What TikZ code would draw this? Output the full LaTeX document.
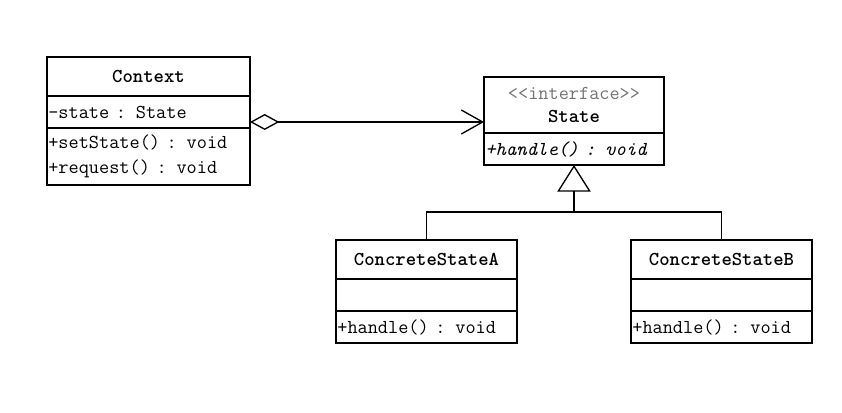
\documentclass[tikz,border=0pt]{standalone}
\usepackage{fontspec}
\usetikzlibrary{arrows.meta,positioning,calc}

\begin{document}
\begin{tikzpicture}[x=0.75pt,y=-0.75pt,line width=1.1pt,
                    font=\ttfamily\fontsize{14.8}{18.75}\selectfont,
                    part/.style={draw,anchor=north west,inner sep=1pt,outer sep=0pt},
                    member/.style={part,align=left},
                    agg/.style={{Diamond[open,length=22pt,width=12pt,line width=1pt]}-{Straight Barb[length=16pt,width=18pt,line width=1pt]}},
                    inh/.style={-{Triangle[open,length=20pt,width=25pt,line width=1pt]}}]
  \useasboundingbox[fill=white] (0,0) rectangle (842,413);

  % Context
  \node[part,minimum width=152.25pt,minimum height=29.25pt] (ctx) at (47,57) {\bfseries Context};
  \node[member,minimum width=152.25pt,minimum height=24pt,text width=150.25pt] (ctxattr) at (ctx.south west) {-state : State};
  \node[member,minimum width=152.25pt,minimum height=42.75pt,text width=150.25pt] (ctxmeth) at (ctxattr.south west) {+setState() : void\\+request() : void};

  % State
  \node[part,minimum width=135pt,minimum height=42pt,align=center] (st) at (484,77)
       {{\color{black!55}<<interface>>}\\[-1.5pt]\bfseries State};
  \node[member,minimum width=135pt,minimum height=24pt,text width=133pt] (stmeth) at (st.south west) {\itshape +handle() : void};

  % ConcreteStateA
  \node[part,minimum width=135.75pt,minimum height=29.25pt] (csa) at (336,240) {\bfseries ConcreteStateA};
  \node[member,minimum width=135.75pt,minimum height=24pt,text width=133.75pt] (csaattr) at (csa.south west) {};
  \node[member,minimum width=135.75pt,minimum height=24pt,text width=133.75pt] (csameth) at (csaattr.south west) {+handle() : void};

  % ConcreteStateB
  \node[part,minimum width=135.75pt,minimum height=29.25pt] (csb) at (631,240) {\bfseries ConcreteStateB};
  \node[member,minimum width=135.75pt,minimum height=24pt,text width=133.75pt] (csbattr) at (csb.south west) {};
  \node[member,minimum width=135.75pt,minimum height=24pt,text width=133.75pt] (csbmeth) at (csbattr.south west) {+handle() : void};

  % aggregation
  \coordinate (aggstart) at ([yshift=-7.5pt]ctxattr.east);
  \draw[agg] (aggstart) -- (aggstart -| st.west);

  % realization
  \coordinate (bar) at (574,212);
  \draw (csa.north) |- (bar) -| (csb.north);
  \draw[inh] (bar) -- (stmeth.south);
\end{tikzpicture}
\end{document}
